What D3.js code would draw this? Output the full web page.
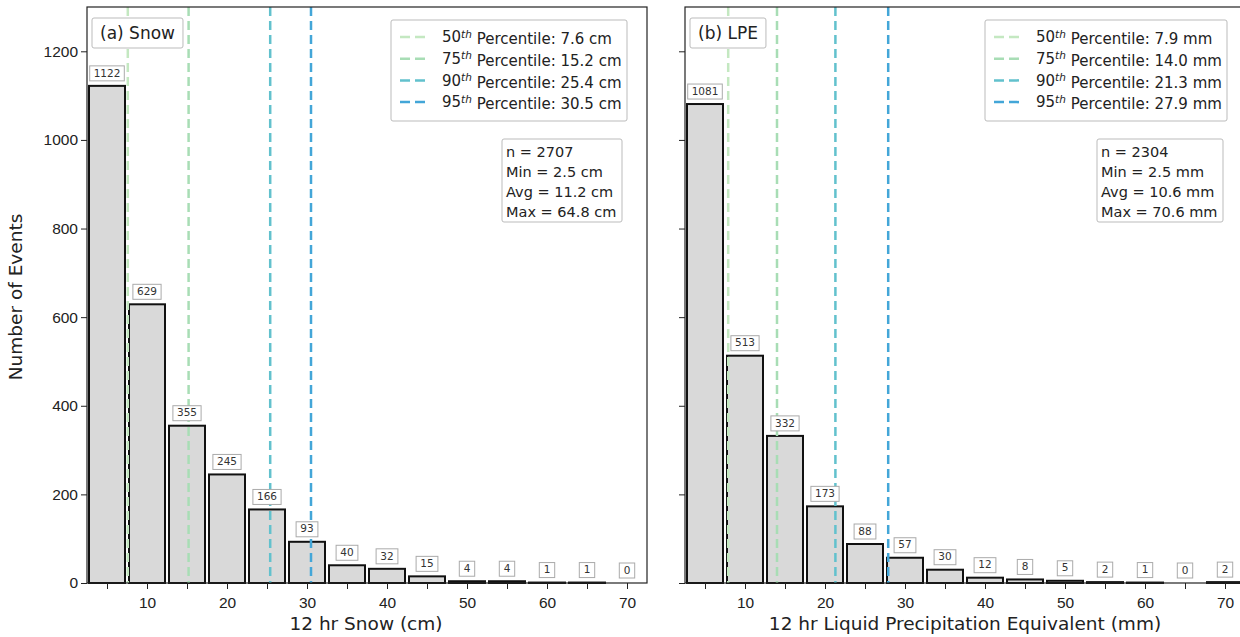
<!DOCTYPE html>
<html>
<head>
<meta charset="utf-8">
<script src="https://cdn.jsdelivr.net/npm/d3@7"></script>
<style>
  body { margin: 0; background: #fff; }
  svg { display: block; font-family: "DejaVu Sans", sans-serif; }
</style>
</head>
<body>
<svg id="chart" width="1240" height="637"></svg>
<script>
// bin centres (5 unit bins from 2.5 to 72.5)
const binCenters = [5, 10, 15, 20, 25, 30, 35, 40, 45, 50, 55, 60, 65, 70];
const snowCounts = [1122, 629, 355, 245, 166, 93, 40, 32, 15, 4, 4, 1, 1, 0];
const lpeCounts = [1081, 513, 332, 173, 88, 57, 30, 12, 8, 5, 2, 1, 0, 2];

const pctNames = ['50', '75', '90', '95'];
const snowPct = [7.6, 15.2, 25.4, 30.5];
const lpePct = [7.9, 14.0, 21.3, 27.9];
const pctColors = ['#c4e8c1', '#a8ddb5', '#62c1cd', '#43a6d8'];

const snowStats = ['n = 2707', 'Min = 2.5 cm', 'Avg = 11.2 cm', 'Max = 64.8 cm'];
const lpeStats = ['n = 2304', 'Min = 2.5 mm', 'Avg = 10.6 mm', 'Max = 70.6 mm'];

const yTicks = [0, 200, 400, 600, 800, 1000, 1200];
const xTicks = [5, 10, 15, 20, 25, 30, 35, 40, 45, 50, 55, 60, 65, 70];

const svg = d3.select('#chart');
const plotTop = 7, plotBottom = 583;

const panels = [
    { left: 87, right: 647, counts: snowCounts, pct: snowPct, unit: 'cm', stats: snowStats,
      title: '(a) Snow', xlabel: '12 hr Snow (cm)', xlabelX: 366, yLabels: true,
      legend: { x: 391, w: 236 }, statBox: { x: 502, w: 120 } },
    { left: 685, right: 1245, counts: lpeCounts, pct: lpePct, unit: 'mm', stats: lpeStats,
      title: '(b) LPE', xlabel: '12 hr Liquid Precipitation Equivalent (mm)', xlabelX: 965, yLabels: false,
      legend: { x: 985, w: 242 }, statBox: { x: 1097, w: 126 } }
];

const y = d3.scaleLinear().domain([0, 1300]).range([plotBottom, plotTop]);

panels.forEach(p => {
    const x = d3.scaleLinear().domain([2.5, 72.5]).range([p.left, p.right]);
    const g = svg.append('g');

    // bars
    g.selectAll('rect.bar')
        .data(p.counts)
        .join('rect')
        .attr('class', 'bar')
        .attr('x', (d, i) => x(binCenters[i] - 2.25))
        .attr('width', (d, i) => x(binCenters[i] + 2.25) - x(binCenters[i] - 2.25))
        .attr('y', d => y(d))
        .attr('height', d => Math.max(0, y(0) - y(d)))
        .attr('fill', '#d9d9d9')
        .attr('stroke', '#111')
        .attr('stroke-width', 2);

    // percentile lines
    g.selectAll('line.pct')
        .data(p.pct)
        .join('line')
        .attr('class', 'pct')
        .attr('x1', d => x(d)).attr('x2', d => x(d))
        .attr('y1', plotTop).attr('y2', plotBottom)
        .attr('stroke', (d, i) => pctColors[i])
        .attr('stroke-width', 2.5)
        .attr('stroke-dasharray', '9,5');

    // count labels
    const lab = g.selectAll('g.lab')
        .data(p.counts)
        .join('g')
        .attr('class', 'lab')
        .attr('transform', (d, i) => `translate(${x(binCenters[i])},${y(d) - 13})`);
    lab.append('rect')
        .attr('x', d => -(String(d).length * 3.2 + 4.5))
        .attr('width', d => String(d).length * 6.4 + 9)
        .attr('y', -7).attr('height', 15)
        .attr('fill', '#fff').attr('stroke', '#aaa').attr('stroke-width', 1);
    lab.append('text')
        .attr('text-anchor', 'middle').attr('dy', '0.35em')
        .attr('font-size', 10.5).attr('fill', '#333')
        .text(d => d);

    // frame
    g.append('rect')
        .attr('x', p.left).attr('y', plotTop)
        .attr('width', p.right - p.left).attr('height', plotBottom - plotTop)
        .attr('fill', 'none').attr('stroke', '#222').attr('stroke-width', 1.2);

    // axes
    const xAxis = d3.axisBottom(x).tickValues(xTicks).tickSize(6)
        .tickFormat(d => d % 10 === 0 ? d : '');
    const xa = g.append('g').attr('transform', `translate(0,${plotBottom})`).call(xAxis);
    xa.select('.domain').remove();
    xa.selectAll('text').attr('font-size', 15.5).attr('fill', '#222').attr('dy', '1em');
    xa.selectAll('line').attr('stroke', '#222');

    const yAxis = d3.axisLeft(y).tickValues(yTicks).tickSize(6)
        .tickFormat(d => p.yLabels ? d : '');
    const ya = g.append('g').attr('transform', `translate(${p.left},0)`).call(yAxis);
    ya.select('.domain').remove();
    ya.selectAll('text').attr('font-size', 15.5).attr('fill', '#222');
    ya.selectAll('line').attr('stroke', '#222');

    g.append('text')
        .attr('x', p.xlabelX)
        .attr('y', 630)
        .attr('text-anchor', 'middle').attr('font-size', 18.5).attr('fill', '#222')
        .text(p.xlabel);

    // title box
    const tg = g.append('g').attr('transform', `translate(${p.left + 5},18)`);
    const tt = tg.append('text').attr('x', 8).attr('y', 21)
        .attr('font-size', 17).attr('fill', '#222').text(p.title);
    const tw = tt.node().getComputedTextLength();
    tg.insert('rect', 'text').attr('width', tw + 16).attr('height', 30).attr('rx', 2)
        .attr('fill', '#fff').attr('stroke', '#bbb');

    // legend
    const lg = g.append('g').attr('transform', `translate(${p.legend.x},20)`);
    lg.append('rect').attr('width', p.legend.w).attr('height', 101).attr('rx', 2)
        .attr('fill', '#fff').attr('stroke', '#bbb');
    const rows = lg.selectAll('g.row').data(p.pct).join('g')
        .attr('class', 'row')
        .attr('transform', (d, i) => `translate(0,${17 + i * 21.7})`);
    rows.append('line').attr('x1', 9).attr('x2', 39)
        .attr('stroke', (d, i) => pctColors[i]).attr('stroke-width', 2.5)
        .attr('stroke-dasharray', '10,5');
    const rt = rows.append('text').attr('x', 51).attr('dy', '0.35em')
        .attr('font-size', 15).attr('fill', '#222');
    rt.append('tspan').text((d, i) => pctNames[i]);
    rt.append('tspan').attr('dy', '-0.45em').attr('font-size', 10.5).attr('font-style', 'italic').text('th');
    rt.append('tspan').attr('dy', '0.45em').text(d => ` Percentile: ${d.toFixed(1)} ${p.unit}`);

    // stats box
    const sg = g.append('g').attr('transform', `translate(${p.statBox.x},139)`);
    sg.append('rect').attr('width', p.statBox.w).attr('height', 83).attr('rx', 2)
        .attr('fill', '#fff').attr('stroke', '#bbb');
    sg.selectAll('text').data(p.stats).join('text')
        .attr('x', 4).attr('y', (d, i) => 13 + i * 20).attr('dy', '0.35em')
        .attr('font-size', 14.5).attr('fill', '#222').text(d => d);
});

svg.append('text')
    .attr('transform', 'translate(22,297) rotate(-90)')
    .attr('text-anchor', 'middle').attr('font-size', 18.5).attr('fill', '#222')
    .text('Number of Events');
</script>
</body>
</html>
